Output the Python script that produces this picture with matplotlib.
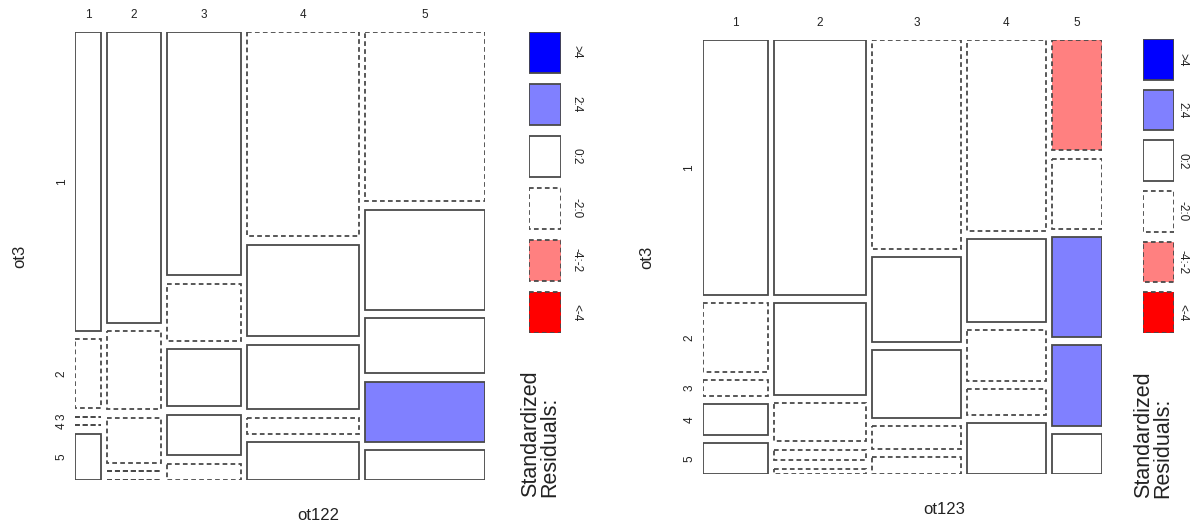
import numpy as np
import matplotlib
matplotlib.use("Agg")
import matplotlib.pyplot as plt
from matplotlib.patches import Rectangle

plt.rcParams['font.family'] = ['Liberation Sans', 'DejaVu Sans']

# cell counts: rows = ot3 (1..5), columns = ot122 / ot123 (1..5)
levels = ['1', '2', '3', '4', '5']

ot122_counts = np.array([
    [13, 26, 30, 38, 34],
    [3, 7, 7, 17, 20],
    [0, 4, 7, 12, 11],
    [0, 0, 5, 3, 12],
    [2, 0, 2, 7, 6],
])

ot123_counts = np.array([
    [33, 47, 37, 30, 11],
    [9, 17, 15, 13, 7],
    [2, 7, 12, 8, 10],
    [4, 2, 4, 4, 8],
    [4, 1, 3, 8, 4],
])

legend_labels = ['>4', '2:4', '0:2', '-2:0', '-4:-2', '<-4']
legend_fills = ['#0000FF', '#8080FF', 'white', 'white', '#FF8080', '#FF0000']
legend_dashed = [False, False, False, True, True, True]

W, H = 1195, 529
EDGE = '#4a4a4a'
DASH = (0, (2.6, 1.8))


def shade(r):
    # same breaks as R's mosaicplot(shade=TRUE)
    if r > 4:
        return '#0000FF', '-'
    if r > 2:
        return '#8080FF', '-'
    if r >= 0:
        return 'white', '-'
    if r > -2:
        return 'white', DASH
    if r > -4:
        return '#FF8080', DASH
    return '#FF0000', DASH


def fig_box(x0, y0, x1, y1):
    # pixel box (from top-left) -> figure fraction rect
    return [x0 / W, 1 - y1 / H, (x1 - x0) / W, (y1 - y0) / H]


def mosaic(fig, counts, box, gx, gy, xlab, xlab_xy, leg_box, leg_h, leg_tx, sr_xy):
    ax = fig.add_axes(fig_box(*box))
    ax.set_xlim(0, 1)
    ax.set_ylim(1, 0)
    ax.axis('off')

    nrow, ncol = counts.shape
    col_tot = counts.sum(axis=0)
    expected = np.outer(counts.sum(axis=1), col_tot) / counts.sum()
    resid = (counts - expected) / np.sqrt(expected)
    widths = col_tot / col_tot.sum() * (1 - gx * (ncol - 1))

    x = 0
    for j in range(ncol):
        heights = counts[:, j] / col_tot[j] * (1 - gy * (nrow - 1))
        y = 0
        for i in range(nrow):
            fc, ls = shade(resid[i, j])
            ax.add_patch(Rectangle((x, y), widths[j], heights[i], facecolor=fc,
                                   edgecolor=EDGE, linewidth=1.3, linestyle=ls))
            if j == 0:
                ax.annotate(levels[i], xy=(0, y + heights[i] / 2), xytext=(-9.5, 0),
                            textcoords='offset points', rotation=90,
                            ha='center', va='center', fontsize=8.5, color='#222222')
            y += heights[i] + gy
        ax.annotate(levels[j], xy=(x + widths[j] / 2, 1), xycoords=ax.get_xaxis_transform(),
                    xytext=(0, 12), textcoords='offset points',
                    ha='center', va='center', fontsize=8.5, color='#222222')
        x += widths[j] + gx

    ax.annotate('ot3', xy=(0, 0.5), xycoords='axes fraction', xytext=(-40, 0),
                textcoords='offset points', rotation=90, ha='center', va='center',
                fontsize=12, color='#222222')
    fig.text(xlab_xy[0] / W, 1 - xlab_xy[1] / H, xlab, ha='center', va='center',
             fontsize=12, color='#222222')

    # legend
    lax = fig.add_axes(fig_box(*leg_box))
    lax.set_xlim(0, 1)
    lax.set_ylim(1, 0)
    lax.axis('off')
    step = (1 - leg_h) / 5
    for k, lab in enumerate(legend_labels):
        y0 = k * step
        lax.add_patch(Rectangle((0, y0), 1, leg_h, facecolor=legend_fills[k], edgecolor=EDGE,
                                linewidth=1.3, linestyle=DASH if legend_dashed[k] else '-'))
        lax.annotate(lab, xy=(1, y0 + leg_h / 2), xytext=(leg_tx, 0),
                     textcoords='offset points', rotation=-90,
                     ha='center', va='center', fontsize=8.5, color='#222222')
    fig.text(sr_xy[0] / W, 1 - sr_xy[1] / H, 'Standardized\nResiduals:', rotation=90,
             rotation_mode='anchor', ha='left', va='center', multialignment='left',
             fontsize=15.5, color='#222222', linespacing=0.85)


fig = plt.figure(figsize=(W / 100, H / 100), dpi=100)

mosaic(fig, ot122_counts, (75, 32, 485, 480), 0.0157, 0.0192, 'ot122', (318, 516),
       (529.3, 31.7, 561, 332.7), 41 / 301, 11, (540, 497))
mosaic(fig, ot123_counts, (702.7, 40, 1101.7, 474), 0.0145, 0.0189, 'ot123', (944, 510),
       (1143.3, 39.3, 1174, 332.7), 40.5 / 293.4, 6, (1153, 498))

fig.savefig('out.png', dpi=100, facecolor='white')
